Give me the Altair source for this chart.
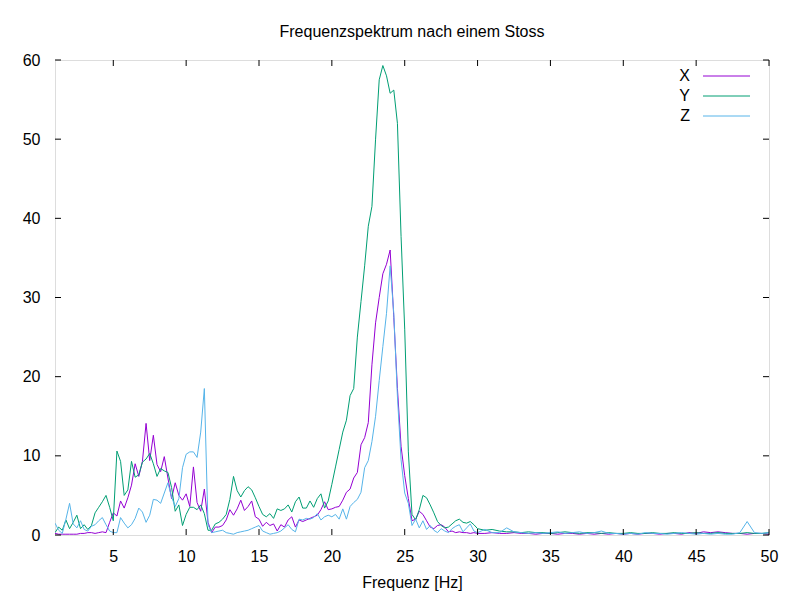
import altair as alt
import pandas as pd

# sampling grid (Hz): 0.25 Hz steps up to 30 Hz, 0.5 Hz steps after
freq_fine = [round(1 + 0.25 * i, 2) for i in range(117)]
freq_tail = [round(30.5 + 0.5 * i, 2) for i in range(40)]
freq = freq_fine + freq_tail

x_fine = [
    0.2, 0.1, 0.1, 0.1,
    0.1, 0.1, 0.1, 0.2,
    0.2, 0.3, 0.3, 0.2,
    0.3, 0.4, 0.3, 1.6,
    2.8, 2.4, 4.3, 3.4,
    4.7, 6.3, 9.0, 7.4,
    9.3, 14.1, 9.4, 12.6,
    8.9, 8.0, 9.9, 7.2,
    4.6, 6.6, 5.0, 4.4,
    5.2, 3.6, 8.6, 4.1,
    3.0, 5.8, 1.6, 0.3,
    1.0, 1.0, 1.2, 1.9,
    3.2, 2.5, 3.3, 4.4,
    3.1, 3.6, 4.3, 2.3,
    2.0, 1.1, 1.6, 1.2,
    1.4, 0.5, 1.3, 1.0,
    1.9, 2.3, 1.0, 1.9,
    1.7, 1.9, 2.1, 2.3,
    2.5, 3.2, 4.2, 3.2,
    3.3, 3.5, 3.6, 4.4,
    5.4, 5.8, 7.2, 7.9,
    11.4, 12.3, 14.2, 21.5,
    26.8, 30.0, 33.0, 34.2,
    36.0, 27.5, 18.5, 11.2,
    7.5, 4.6, 1.8, 2.0,
    3.0, 2.6, 1.8, 1.0,
    0.8, 1.2, 1.3, 1.0,
    0.4, 0.5, 0.3, 0.4,
    0.3, 0.3, 0.2, 0.3,
    0.2,
]
x_tail = [0.2, 0.3, 0.2, 0.2, 0.3, 0.2, 0.2, 0.1, 0.2, 0.2,
          0.1, 0.2, 0.2, 0.1, 0.2, 0.1, 0.2, 0.1, 0.2, 0.1,
          0.2, 0.1, 0.2, 0.2, 0.1, 0.2, 0.2, 0.1, 0.3, 0.2,
          0.4, 0.3, 0.4, 0.3, 0.2, 0.2, 0.1, 0.2, 0.2, 0.1]

y_fine = [
    0.3, 1.0, 0.6, 1.9,
    0.8, 1.6, 2.5, 0.8,
    1.3, 0.7, 1.2, 2.8,
    3.5, 4.2, 5.0, 3.5,
    1.8, 10.6, 9.3, 5.0,
    5.7, 9.3, 7.3, 7.6,
    9.2, 9.6, 10.3, 9.0,
    7.4, 8.4, 8.1, 7.9,
    6.0, 3.0, 3.8, 1.2,
    2.6, 3.5, 3.5, 3.2,
    3.8, 2.7, 0.6, 0.6,
    1.4, 1.6, 2.0, 2.6,
    4.5, 7.4, 5.6, 4.8,
    5.6, 6.1, 5.7, 4.7,
    3.6, 2.6, 2.3, 2.7,
    2.1, 3.3, 3.1, 3.3,
    3.8, 2.9, 4.2, 4.8,
    3.4, 3.4, 4.3, 3.5,
    4.6, 5.2, 3.4, 4.3,
    6.4, 8.6, 10.8, 13.0,
    14.5, 17.6, 18.5, 25.0,
    29.5, 34.0, 39.0, 41.5,
    50.0, 57.5, 59.3, 58.0,
    55.8, 56.2, 52.0, 37.7,
    26.0, 10.5, 2.6, 1.9,
    3.2, 5.0, 4.7, 3.8,
    2.8, 1.7, 1.2, 0.9,
    1.0, 1.4, 1.8, 2.0,
    1.6, 1.5, 1.7, 1.3,
    0.8,
]
y_tail = [0.6, 0.7, 0.5, 0.4, 0.4, 0.3, 0.4, 0.3, 0.3, 0.2,
          0.3, 0.4, 0.3, 0.2, 0.3, 0.3, 0.2, 0.3, 0.2, 0.2,
          0.3, 0.2, 0.2, 0.3, 0.2, 0.2, 0.3, 0.2, 0.2, 0.3,
          0.2, 0.2, 0.3, 0.2, 0.2, 0.2, 0.3, 0.2, 0.2, 0.3]

z_fine = [
    1.5, 0.6, 0.2, 2.0,
    4.0, 1.4, 0.9, 1.8,
    0.7, 0.5, 1.1, 1.3,
    1.8, 2.2, 1.3, 0.5,
    0.3, 0.3, 2.2, 1.5,
    0.9, 1.3, 2.1, 3.4,
    2.9, 1.6, 2.5, 4.5,
    4.4, 4.0, 5.3, 6.6,
    4.8, 3.6, 4.6, 8.5,
    10.2, 10.5, 10.5, 9.8,
    13.0, 18.5, 1.3, 0.3,
    0.4, 0.5, 0.6, 0.3,
    0.2, 0.1, 0.3, 0.4,
    0.5, 0.6, 0.8, 1.0,
    1.2, 0.5, 0.3, 0.1,
    0.2, 0.3, 0.5, 0.9,
    1.3, 0.7, 0.4, 2.0,
    1.9, 2.1, 2.0, 2.2,
    2.7, 1.9, 2.3, 2.5,
    2.3, 2.6, 2.0, 3.3,
    2.0, 3.6, 4.1, 4.5,
    5.4, 8.5, 9.4, 11.8,
    15.0, 19.5, 23.8, 28.0,
    34.0, 28.0, 17.5, 9.5,
    5.3, 4.0, 1.2, 2.0,
    0.9, 1.8, 0.7, 1.2,
    0.6, 0.3, 0.8, 0.5,
    0.3, 0.8, 1.1, 1.3,
    0.4, 0.9, 1.4, 0.5,
    0.3,
]
z_tail = [0.7, 0.3, 0.3, 0.9, 0.4, 0.3, 0.2, 0.3, 0.2, 0.3,
          0.4, 0.2, 0.3, 0.4, 0.2, 0.3, 0.5, 0.2, 0.2, 0.1,
          0.2, 0.1, 0.3, 0.2, 0.2, 0.1, 0.2, 0.3, 0.2, 0.1,
          0.2, 0.1, 0.2, 0.1, 0.1, 0.3, 1.7, 0.3, 0.2, 0.3]

series_names = ["X", "Y", "Z"]
series_colors = ["#9400D3", "#009E73", "#56B4E9"]
x_ticks = [5, 10, 15, 20, 25, 30, 35, 40, 45, 50]
y_ticks = [0, 10, 20, 30, 40, 50, 60]

rows = []
for name, vals in (("X", x_fine + x_tail), ("Y", y_fine + y_tail), ("Z", z_fine + z_tail)):
    for f, v in zip(freq, vals):
        rows.append({"f": f, "v": v, "series": name})
df = pd.DataFrame(rows)

W, H = 714, 475
FONT = "Liberation Sans"
FS = 16
TICK = 6

xs = alt.Scale(domain=[1, 50], nice=False, zero=False)
ys = alt.Scale(domain=[0, 60], nice=False, zero=False)

x_axis = alt.Axis(
    values=x_ticks, title="Frequenz [Hz]", ticks=False, tickSize=0, domain=False, grid=False,
    labelPadding=13, labelFontSize=FS, labelFont=FONT, labelColor="black",
    titleFontSize=FS, titleFont=FONT, titleFontWeight="normal", titleColor="black",
    titlePadding=10, labelFlush=False)
y_axis = alt.Axis(
    values=y_ticks, title="", ticks=False, tickSize=0, domain=False, grid=False,
    labelPadding=15, labelFontSize=FS, labelFont=FONT, labelColor="black", labelFlush=False)

lines = alt.Chart(df).mark_line(strokeWidth=1, clip=True).encode(
    x=alt.X("f:Q", scale=xs, axis=x_axis),
    y=alt.Y("v:Q", scale=ys, axis=y_axis),
    color=alt.Color("series:N", scale=alt.Scale(domain=series_names, range=series_colors), legend=None),
    order=alt.Order("f:Q"),
)

xt = pd.DataFrame({"t": x_ticks})
yt = pd.DataFrame({"t": y_ticks})
tick_x = alt.X("t:Q", scale=xs, axis=x_axis)
tick_y = alt.Y("t:Q", scale=ys, axis=y_axis)
bottom_ticks = alt.Chart(xt).mark_rule(color="black", strokeWidth=1).encode(
    x=tick_x, y=alt.value(H), y2=alt.value(H - TICK))
top_ticks = alt.Chart(xt).mark_rule(color="black", strokeWidth=1).encode(
    x=tick_x, y=alt.value(0), y2=alt.value(TICK))
left_ticks = alt.Chart(yt).mark_rule(color="black", strokeWidth=1).encode(
    y=tick_y, x=alt.value(0), x2=alt.value(TICK))
right_ticks = alt.Chart(yt).mark_rule(color="black", strokeWidth=1).encode(
    y=tick_y, x=alt.value(W - TICK), x2=alt.value(W))

legend_layers = []
for i, (name, col) in enumerate(zip(series_names, series_colors)):
    ld = pd.DataFrame({"series": [name]})
    yy = 16 + 20 * i
    legend_layers.append(
        alt.Chart(ld).mark_rule(color=col, strokeWidth=1).encode(
            x=alt.value(648), x2=alt.value(695), y=alt.value(yy)))
    legend_layers.append(
        alt.Chart(ld).mark_text(align="right", baseline="middle", font=FONT, fontSize=FS, color="black").encode(
            x=alt.value(635), y=alt.value(yy), text="series:N"))

chart = alt.layer(
    lines, bottom_ticks, top_ticks, left_ticks, right_ticks, *legend_layers
).properties(
    width=W, height=H,
    title=alt.TitleParams("Frequenzspektrum nach einem Stoss", font=FONT, fontSize=FS,
                          fontWeight="normal", color="black", offset=12),
    padding={"left": 47, "top": 52, "right": 23, "bottom": 57},
    autosize="none",
).configure_view(stroke="black", strokeWidth=1).configure(background="white")

chart.save("out.html", embed_options={"renderer": "svg", "actions": False})
